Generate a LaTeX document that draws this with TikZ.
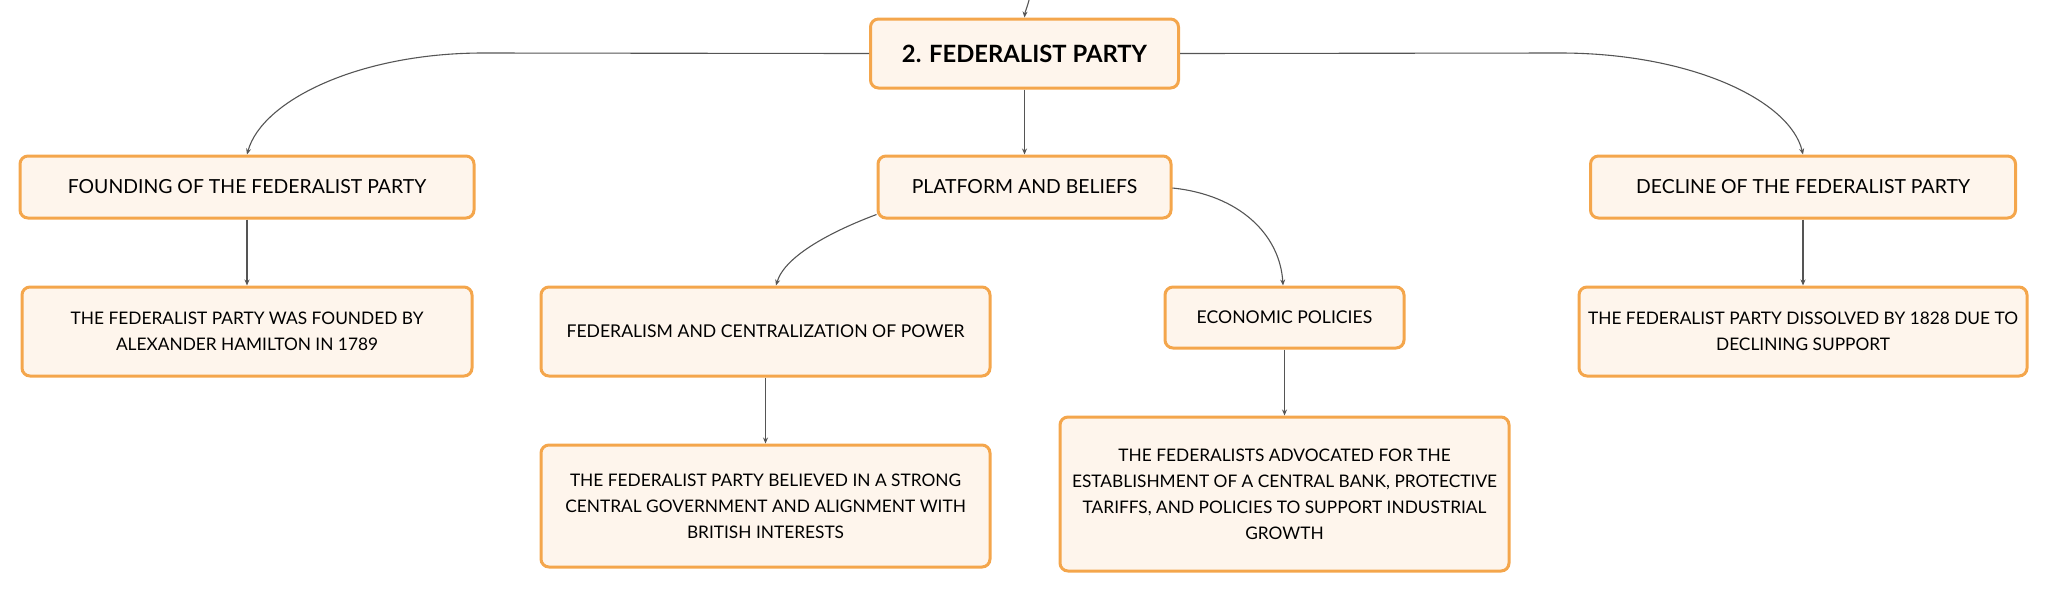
\documentclass[tikz,border=0pt]{standalone}
\usepackage{fontspec}
\setmainfont{Lato}
\usetikzlibrary{arrows.meta,calc}
\definecolor{boxborder}{HTML}{F4A64C}
\definecolor{boxfill}{HTML}{FEF5EC}
\definecolor{linkgray}{HTML}{555555}
\tikzset{
  mapbox/.style={draw=boxborder, fill=boxfill, line width=1.5pt, rounded corners=4pt,
    align=center, inner sep=0pt, font=\fontsize{8.65}{13}\selectfont, text=black},
  midbox/.style={mapbox, font=\fontsize{8.8}{13}\selectfont},
  topbox/.style={mapbox, font=\fontsize{9.7}{13}\selectfont},
  rootbox/.style={mapbox, font=\fontsize{11.9}{15}\selectfont\bfseries},
  link/.style={draw=linkgray, line width=0.55pt, -{Stealth[length=3pt,width=2.5pt]}}
}
\begin{document}
\begin{tikzpicture}[x=0.5pt,y=-0.5pt]
\useasboundingbox (0,0) rectangle (2048,591);
\node[rootbox, minimum width=154pt, minimum height=34.5pt] (root) at (1024.5,53.5) {2. FEDERALIST PARTY};
\node[topbox, minimum width=227pt, minimum height=31pt] (found) at (247,187) {FOUNDING OF THE FEDERALIST PARTY};
\node[topbox, minimum width=146.5pt, minimum height=31pt] (plat) at (1024.5,187) {PLATFORM AND BELIEFS};
\node[topbox, minimum width=212.5pt, minimum height=31pt] (decl) at (1803,187) {DECLINE OF THE FEDERALIST PARTY};
\node[mapbox, minimum width=225pt, minimum height=44.5pt] (foundc) at (247,331.5) {THE FEDERALIST PARTY WAS FOUNDED BY\\ALEXANDER HAMILTON IN 1789};
\node[midbox, minimum width=224.5pt, minimum height=44.5pt] (fed) at (765.5,331.5) {FEDERALISM AND CENTRALIZATION OF POWER};
\node[midbox, minimum width=119.5pt, minimum height=30.5pt] (econ) at (1284.5,317.5) {ECONOMIC POLICIES};
\node[mapbox, minimum width=224pt, minimum height=44.5pt] (declc) at (1803,331.5) {THE FEDERALIST PARTY DISSOLVED BY 1828 DUE TO\\DECLINING SUPPORT};
\node[mapbox, minimum width=224.5pt, minimum height=61pt] (fedc) at (765.5,506) {THE FEDERALIST PARTY BELIEVED IN A STRONG\\CENTRAL GOVERNMENT AND ALIGNMENT WITH\\BRITISH INTERESTS};
\node[mapbox, minimum width=224.5pt, minimum height=77pt] (econc) at (1284.5,494) {THE FEDERALISTS ADVOCATED FOR THE\\ESTABLISHMENT OF A CENTRAL BANK, PROTECTIVE\\TARIFFS, AND POLICIES TO SUPPORT INDUSTRIAL\\GROWTH};
\coordinate (top) at (1029,0);
\draw[link] (top) .. controls (1027,8) and (1025,12) .. (root.north);
\draw[link] (root.west) -- (483,53) .. controls (360,53) and (262,100) .. (found.north);
\draw[link] (root.east) -- (1560,53) .. controls (1690,53) and (1790,100) .. (decl.north);
\draw[link] (root.south) -- (plat.north);
\draw[link] ($(plat.south west)+(0,-5)$) .. controls (835,230) and (785,255) .. ($(fed.north)+(10.5,0)$);
\draw[link] ($(plat.east)+(0,1)$) .. controls (1240,195) and (1280,235) .. ($(econ.north)+(-1.5,0)$);
\draw[link] (found.south) -- (foundc.north);
\draw[link] (fed.south) -- (fedc.north);
\draw[link] (econ.south) -- (econc.north);
\draw[link] (decl.south) -- (declc.north);
\end{tikzpicture}
\end{document}
